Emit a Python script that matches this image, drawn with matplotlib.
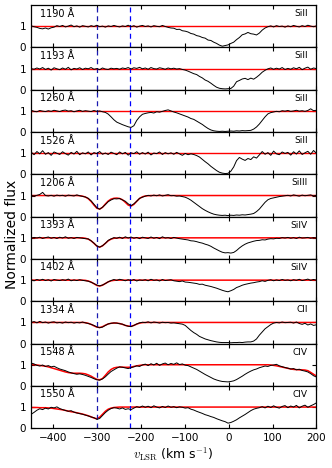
import matplotlib

matplotlib.use("Agg")
import matplotlib.pyplot as plt
import numpy as np

plt.rcParams.update({
    "font.family": "DejaVu Sans",
    "mathtext.fontset": "cm",
    "xtick.direction": "in",
    "ytick.direction": "in",
    "xtick.top": True,
    "ytick.right": True,
    "xtick.major.size": 3,
    "ytick.major.size": 3,
    "xtick.labelsize": 7.5,
    "ytick.labelsize": 7.5,
    "axes.linewidth": 0.9,
})

# velocity grid of the spectra (km/s)
velocity = np.linspace(-450, 200, 101)

lines = ["1190 Å", "1193 Å", "1260 Å", "1526 Å", "1206 Å",
         "1393 Å", "1402 Å", "1334 Å", "1548 Å", "1550 Å"]
ions = ["SiII", "SiII", "SiII", "SiII", "SiIII",
        "SiIV", "SiIV", "CII", "CIV", "CIV"]
components = [-300, -225]

f1190 = [1.02, 0.98, 0.95, 0.90, 0.88, 0.92, 0.87, 0.93, 0.96, 1.03,
         0.99, 1.04, 0.97, 1.01, 1.06, 0.98, 1.02, 0.96, 1.03, 1.00,
         0.97, 1.03, 0.99, 1.05, 0.98, 1.01, 0.96, 1.02, 0.99, 1.04,
         1.00, 0.97, 1.02, 0.99, 1.05, 0.98, 1.03, 0.96, 1.01, 1.04,
         0.99, 1.02, 0.97, 1.03, 1.00, 0.98, 1.04, 0.99, 0.95, 0.92,
         0.91, 0.85, 0.86, 0.79, 0.77, 0.73, 0.66, 0.63, 0.56, 0.53,
         0.47, 0.44, 0.35, 0.33, 0.25, 0.19, 0.11, 0.06, 0.09, 0.12,
         0.19, 0.25, 0.37, 0.47, 0.60, 0.64, 0.71, 0.65, 0.63, 0.59,
         0.68, 0.82, 0.92, 0.98, 1.02, 0.97, 1.03, 0.99, 1.01, 0.96,
         1.02, 0.98, 1.04, 1.00, 0.97, 1.03, 0.99, 1.05, 1.01, 0.98,
         1.02]
f1193 = [1.00, 0.97, 1.03, 0.98, 1.05, 0.96, 1.02, 0.93, 1.04, 0.99,
         0.95, 1.03, 0.97, 1.06, 0.94, 1.01, 0.98, 1.04, 0.96, 1.02,
         0.99, 1.05, 0.97, 1.00, 0.95, 1.03, 0.98, 0.96, 1.02, 0.99,
         1.01, 0.97, 1.03, 1.00, 1.05, 0.98, 1.04, 1.01, 1.06, 0.99,
         1.03, 0.97, 1.05, 1.00, 0.98, 1.04, 1.01, 0.97, 1.03, 0.99,
         1.02, 0.98, 1.00, 0.96, 0.93, 0.88, 0.82, 0.76, 0.72, 0.63,
         0.56, 0.46, 0.40, 0.31, 0.21, 0.12, 0.07, 0.05, 0.04, 0.05,
         0.06, 0.17, 0.38, 0.44, 0.51, 0.54, 0.48, 0.55, 0.50, 0.59,
         0.70, 0.83, 0.92, 0.99, 1.03, 0.97, 1.02, 0.98, 1.05, 0.96,
         1.01, 0.97, 1.04, 0.99, 1.06, 0.95, 1.02, 1.07, 0.97, 1.03,
         1.00]
f1260 = [1.03, 0.98, 0.96, 1.02, 0.99, 0.97, 1.01, 0.98, 1.03, 1.00,
         0.97, 1.02, 1.04, 0.99, 1.01, 0.96, 1.00, 1.03, 0.98, 1.01,
         0.99, 0.97, 1.02, 0.98, 1.00, 0.96, 0.93, 0.85, 0.72, 0.58,
         0.47, 0.41, 0.35, 0.30, 0.25, 0.22, 0.30, 0.55, 0.72, 0.84,
         0.88, 0.91, 0.93, 0.90, 0.96, 0.94, 0.98, 1.02, 1.05, 1.00,
         0.95, 0.91, 0.86, 0.81, 0.76, 0.71, 0.64, 0.60, 0.52, 0.44,
         0.36, 0.26, 0.17, 0.10, 0.06, 0.04, 0.03, 0.04, 0.03, 0.04,
         0.05, 0.04, 0.06, 0.05, 0.07, 0.06, 0.07, 0.08, 0.14, 0.24,
         0.38, 0.55, 0.72, 0.86, 0.92, 0.95, 0.98, 0.96, 1.01, 0.99,
         1.02, 0.98, 1.00, 1.03, 0.99, 1.01, 0.98, 1.02, 1.10, 1.01,
         1.03]
f1526 = [1.05, 0.93, 1.08, 0.97, 1.12, 0.95, 1.03, 0.90, 1.06, 1.00,
         0.94, 1.07, 0.98, 0.91, 1.04, 0.96, 1.09, 0.93, 1.02, 0.97,
         1.06, 0.92, 1.03, 0.98, 1.08, 0.95, 1.01, 0.94, 1.05, 0.99,
         0.93, 1.06, 0.97, 1.04, 0.91, 1.02, 0.98, 1.07, 0.95, 1.03,
         0.96, 1.05, 0.92, 1.01, 0.98, 1.06, 0.94, 1.03, 0.97, 1.02,
         0.95, 1.04, 0.97, 0.90, 0.99, 0.93, 0.97, 0.94, 0.89, 0.82,
         0.71, 0.60, 0.50, 0.38, 0.28, 0.18, 0.10, 0.06, 0.04, 0.05,
         0.15, 0.35, 0.65, 0.80, 0.72, 0.66, 0.75, 0.70, 0.83, 0.77,
         0.92, 1.08, 0.95, 1.03, 0.90, 1.10, 0.97, 0.93, 1.06, 0.99,
         1.04, 0.91, 1.07, 0.96, 1.11, 0.94, 1.02, 1.09, 0.95, 1.13,
         1.00]
f1206 = [1.00, 0.98, 1.01, 1.05, 1.15, 1.00, 0.98, 1.01, 0.97, 1.02,
         0.99, 1.01, 0.97, 1.02, 1.00, 0.98, 1.03, 0.99, 0.96, 0.93,
         0.87, 0.75, 0.59, 0.43, 0.35, 0.45, 0.57, 0.71, 0.79, 0.85,
         0.84, 0.86, 0.79, 0.73, 0.61, 0.52, 0.61, 0.73, 0.87, 0.92,
         0.97, 1.01, 0.98, 1.02, 0.99, 1.03, 0.98, 1.01, 1.04, 0.99,
         1.00, 0.97, 0.98, 0.95, 0.92, 0.86, 0.78, 0.68, 0.58, 0.48,
         0.38, 0.30, 0.23, 0.17, 0.12, 0.09, 0.07, 0.06, 0.07, 0.05,
         0.07, 0.06, 0.08, 0.07, 0.09, 0.08, 0.10, 0.12, 0.15, 0.24,
         0.36, 0.52, 0.68, 0.80, 0.86, 0.89, 0.92, 0.95, 0.97, 0.99,
         1.01, 0.98, 1.03, 1.00, 0.97, 1.02, 0.99, 1.01, 1.03, 0.98,
         1.01]
f1393 = [0.98, 1.02, 0.99, 1.03, 0.97, 1.01, 1.04, 0.98, 1.02, 0.97,
         1.03, 0.99, 1.05, 0.98, 1.01, 0.97, 1.02, 1.00, 0.98, 0.96,
         0.95, 0.86, 0.75, 0.62, 0.56, 0.63, 0.74, 0.88, 0.95, 1.01,
         0.98, 1.03, 0.97, 1.05, 0.99, 1.04, 0.98, 1.02, 0.96, 1.03,
         1.00, 0.97, 1.04, 0.98, 1.02, 0.96, 1.05, 0.99, 1.01, 0.97,
         1.02, 0.99, 0.96, 0.94, 0.92, 0.90, 0.86, 0.85, 0.82, 0.78,
         0.75, 0.70, 0.66, 0.60, 0.52, 0.45, 0.38, 0.32, 0.29, 0.30,
         0.28, 0.31, 0.40, 0.52, 0.62, 0.70, 0.76, 0.80, 0.84, 0.87,
         0.88, 0.91, 0.90, 0.94, 0.96, 0.95, 0.98, 0.97, 1.01, 0.99,
         1.02, 0.98, 1.01, 0.97, 1.03, 0.99, 1.00, 1.02, 0.98, 1.01,
         0.99]
f1402 = [1.01, 0.97, 1.03, 0.99, 1.04, 0.98, 1.02, 0.96, 1.03, 1.00,
         0.98, 1.02, 0.99, 1.05, 0.97, 1.01, 0.98, 1.02, 0.99, 0.97,
         0.95, 0.90, 0.84, 0.77, 0.73, 0.77, 0.84, 0.92, 0.98, 1.03,
         0.99, 1.04, 1.01, 0.97, 1.02, 0.98, 1.03, 0.96, 1.01, 0.99,
         1.02, 0.97, 1.04, 0.99, 1.01, 0.96, 1.03, 0.98, 1.00, 1.02,
         0.97, 0.95, 0.93, 0.96, 0.91, 0.90, 0.88, 0.86, 0.84, 0.80,
         0.81, 0.76, 0.73, 0.70, 0.66, 0.62, 0.57, 0.52, 0.48, 0.45,
         0.50, 0.56, 0.65, 0.70, 0.76, 0.80, 0.83, 0.86, 0.88, 0.91,
         0.93, 0.97, 0.94, 0.99, 1.02, 0.97, 1.01, 0.98, 1.03, 0.99,
         1.01, 0.97, 1.02, 0.99, 1.04, 0.98, 1.01, 1.05, 0.99, 1.03,
         1.00]
f1334 = [1.00, 1.04, 0.98, 1.05, 0.99, 1.02, 0.97, 1.01, 1.03, 0.98,
         1.00, 0.97, 1.02, 0.99, 1.01, 0.97, 1.00, 0.98, 1.02, 0.98,
         0.95, 0.91, 0.86, 0.79, 0.75, 0.78, 0.86, 0.93, 0.96, 0.98,
         0.97, 0.94, 0.92, 0.86, 0.82, 0.80, 0.86, 0.93, 0.98, 1.01,
         0.99, 1.03, 0.98, 1.02, 1.00, 0.97, 1.01, 0.99, 1.00, 0.97,
         0.98, 0.96, 0.94, 0.92, 0.86, 0.74, 0.62, 0.52, 0.44, 0.34,
         0.28, 0.22, 0.18, 0.14, 0.11, 0.08, 0.06, 0.05, 0.05, 0.05,
         0.04, 0.05, 0.05, 0.06, 0.05, 0.07, 0.08, 0.08, 0.12, 0.22,
         0.40, 0.55, 0.70, 0.80, 0.90, 0.97, 1.00, 0.98, 1.02, 0.99,
         1.00, 1.01, 0.97, 1.02, 0.95, 0.91, 0.96, 0.88, 0.93, 0.86,
         0.89]
f1548 = [1.08, 1.04, 0.97, 0.94, 0.99, 0.92, 0.96, 0.90, 0.93, 0.86,
         0.80, 0.76, 0.72, 0.66, 0.62, 0.58, 0.55, 0.57, 0.54, 0.50,
         0.45, 0.40, 0.34, 0.29, 0.27, 0.33, 0.43, 0.56, 0.68, 0.76,
         0.84, 0.90, 0.88, 0.85, 0.82, 0.86, 0.90, 0.95, 0.92, 0.99,
         1.03, 0.96, 1.05, 0.99, 1.07, 0.97, 1.04, 1.08, 1.00, 1.06,
         1.02, 1.09, 1.01, 1.04, 0.98, 0.96, 0.90, 0.84, 0.78, 0.70,
         0.62, 0.54, 0.47, 0.40, 0.33, 0.28, 0.24, 0.21, 0.20, 0.19,
         0.21, 0.24, 0.30, 0.38, 0.46, 0.55, 0.63, 0.70, 0.76, 0.80,
         0.86, 0.90, 0.94, 0.92, 0.97, 0.99, 1.02, 0.95, 0.91, 0.87,
         0.84, 0.80, 0.82, 0.76, 0.79, 0.73, 0.70, 0.66, 0.58, 0.48,
         0.42]
f1550 = [0.66, 0.75, 0.85, 0.92, 0.88, 0.95, 0.91, 0.99, 0.96, 1.01,
         0.93, 0.88, 0.84, 0.80, 0.83, 0.76, 0.72, 0.69, 0.66, 0.62,
         0.58, 0.53, 0.50, 0.42, 0.46, 0.60, 0.74, 0.85, 0.93, 0.97,
         0.95, 0.91, 0.96, 0.89, 0.92, 0.88, 0.95, 1.02, 0.98, 1.05,
         0.99, 1.04, 0.97, 1.06, 1.00, 0.96, 1.03, 0.98, 1.05, 0.99,
         1.02, 0.97, 1.01, 0.99, 0.95, 0.97, 0.90, 0.86, 0.80, 0.75,
         0.70, 0.64, 0.60, 0.55, 0.51, 0.45, 0.40, 0.35, 0.31, 0.24,
         0.27, 0.33, 0.40, 0.49, 0.57, 0.65, 0.74, 0.83, 0.90, 0.94,
         0.97, 1.02, 0.96, 1.04, 0.98, 1.06, 0.99, 0.95, 1.03, 1.07,
         0.97, 1.05, 1.00, 1.08, 0.96, 1.04, 1.09, 0.99, 1.06, 1.12,
         1.20]

# fitted models (red), same velocity grid
m1206 = ([1.0] * 17
         + [0.99, 0.97, 0.93, 0.85, 0.72, 0.55, 0.40, 0.36, 0.44, 0.60,
            0.74, 0.83, 0.87, 0.88, 0.86, 0.80, 0.68, 0.55, 0.50, 0.58,
            0.73, 0.86, 0.94, 0.98, 0.99]
         + [1.0] * 59)
m1393 = ([1.0] * 19
         + [0.98, 0.94, 0.86, 0.74, 0.61, 0.56, 0.62, 0.74, 0.86, 0.94,
            0.98, 0.99]
         + [1.0] * 70)
m1402 = ([1.0] * 19
         + [0.99, 0.96, 0.91, 0.83, 0.75, 0.72, 0.76, 0.84, 0.92, 0.97,
            0.99]
         + [1.0] * 71)
m1334 = ([1.0] * 19
         + [0.99, 0.96, 0.91, 0.84, 0.78, 0.76, 0.80, 0.87, 0.93, 0.96,
            0.97, 0.97, 0.95, 0.91, 0.86, 0.83, 0.82, 0.86, 0.92, 0.97,
            0.99]
         + [1.0] * 61)
m1548 = ([1.02, 1.00, 0.99, 0.97, 0.95, 0.93, 0.90, 0.86, 0.82, 0.78,
          0.74, 0.70, 0.66, 0.63, 0.61, 0.60, 0.60, 0.60, 0.59, 0.57,
          0.52, 0.46, 0.38, 0.31, 0.29, 0.35, 0.50, 0.66, 0.78, 0.85,
          0.88, 0.89, 0.89, 0.88, 0.88, 0.89, 0.92, 0.95, 0.97, 0.99]
         + [1.0] * 44
         + [0.99, 0.97, 0.95, 0.92, 0.89, 0.86, 0.83, 0.80, 0.78, 0.77,
            0.76, 0.76, 0.75, 0.72, 0.64, 0.55, 0.47])
m1550 = ([0.98, 0.98, 0.98, 0.97, 0.97, 0.97, 0.96, 0.95, 0.93, 0.91,
          0.89, 0.87, 0.84, 0.81, 0.78, 0.76, 0.73, 0.70, 0.67, 0.63,
          0.59, 0.54, 0.48, 0.45, 0.52, 0.66, 0.80, 0.90, 0.95, 0.98,
          0.99]
         + [1.0] * 70)

spectra = [f1190, f1193, f1260, f1526, f1206, f1393, f1402, f1334, f1548, f1550]
models = [None, None, None, None, m1206, m1393, m1402, m1334, m1548, m1550]

fig, axes = plt.subplots(len(spectra), 1, figsize=(3.32, 4.68), dpi=100, sharex=True)
fig.subplots_adjust(left=0.094, right=0.953, top=0.989, bottom=0.085, hspace=0)

for ax, flux, model, line, ion in zip(axes, spectra, models, lines, ions):
    ax.plot(velocity, flux, color="black", lw=0.7, zorder=3)
    if model is None:
        ax.axhline(1.0, color="red", lw=1.0, zorder=2)
    else:
        ax.plot(velocity, model, color="red", lw=1.1, zorder=2)
    ax.axvline(components[0], color="#1a1ab0", ls=(0, (4, 3)), lw=0.9)
    ax.axvline(components[1], color="blue", ls=(0, (4, 3)), lw=0.9)
    ax.set_xlim(-450, 200)
    ax.set_ylim(0, 2)
    ax.set_yticks([0, 1])
    ax.set_xticks([-400, -300, -200, -100, 0, 100, 200])
    ax.text(0.03, 0.80, line, transform=ax.transAxes, fontsize=7, va="center")
    ax.text(0.97, 0.80, ion, transform=ax.transAxes, fontsize=6.5,
            va="center", ha="right")

axes[-1].set_xlabel(r"$v_{\rm LSR}$ (km s$^{-1}$)", fontsize=9, labelpad=2)
fig.text(0.036, 0.5, "Normalized flux", rotation=90, va="center", ha="center",
         fontsize=10)

fig.savefig("out.png", dpi=100)
